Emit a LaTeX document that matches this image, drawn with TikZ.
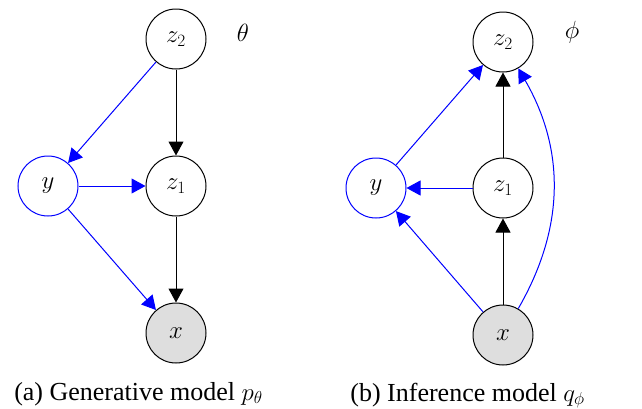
\documentclass[tikz,border=0pt]{standalone}
\usepackage{fontspec}
\setmainfont{Liberation Serif}
\usetikzlibrary{arrows.meta}
\begin{document}
\begin{tikzpicture}[x=1pt,y=-1pt,
  var/.style={circle,draw,line width=1pt,minimum size=60pt,inner sep=0pt,font=\fontsize{27}{31}\selectfont},
  obs/.style={var,fill=black!13},
  bvar/.style={var,draw=blue},
  arr/.style={line width=1pt,-{Triangle[length=14pt,width=15pt]}},
  barr/.style={arr,blue},
  paramlbl/.style={font=\fontsize{27}{31}\selectfont},
  captxt/.style={font=\fontsize{26}{30}\selectfont,anchor=base}]
\useasboundingbox (0,0) rectangle (642,408);
% (a) generative model
\node[var]  (az2) at (176,39)  {$z_2$};
\node[bvar] (ay)  at (48,186)  {$y$};
\node[var]  (az1) at (176,186) {$z_1$};
\node[obs]  (ax)  at (176,333) {$x$};
\node[paramlbl]  (ath) at (243,33)  {$\theta$};
\draw[arr]  (az2) -- (az1);
\draw[arr]  (az1) -- (ax);
\draw[barr] (az2) -- (ay);
\draw[barr] (ay) -- (az1);
\draw[barr] (ay) -- (ax);
\node[captxt]  (acap) at (138.5,400) {(a) Generative model $p_\theta$};
% (b) inference model
\node[var]  (bz2) at (503,42)  {$z_2$};
\node[bvar] (by)  at (376,188) {$y$};
\node[var]  (bz1) at (503,188) {$z_1$};
\node[obs]  (bx)  at (503,335) {$x$};
\node[paramlbl]  (bph) at (572,32)  {$\phi$};
\draw[arr]  (bx) -- (bz1);
\draw[arr]  (bz1) -- (bz2);
\draw[barr] (bz1) -- (by);
\draw[barr] (bx) -- (by);
\draw[barr] (by) -- (bz2);
\draw[barr] (bx) to[bend right=30] (bz2);
\node[captxt]  (bcap) at (467.5,401) {(b) Inference model $q_\phi$};
\end{tikzpicture}
\end{document}
